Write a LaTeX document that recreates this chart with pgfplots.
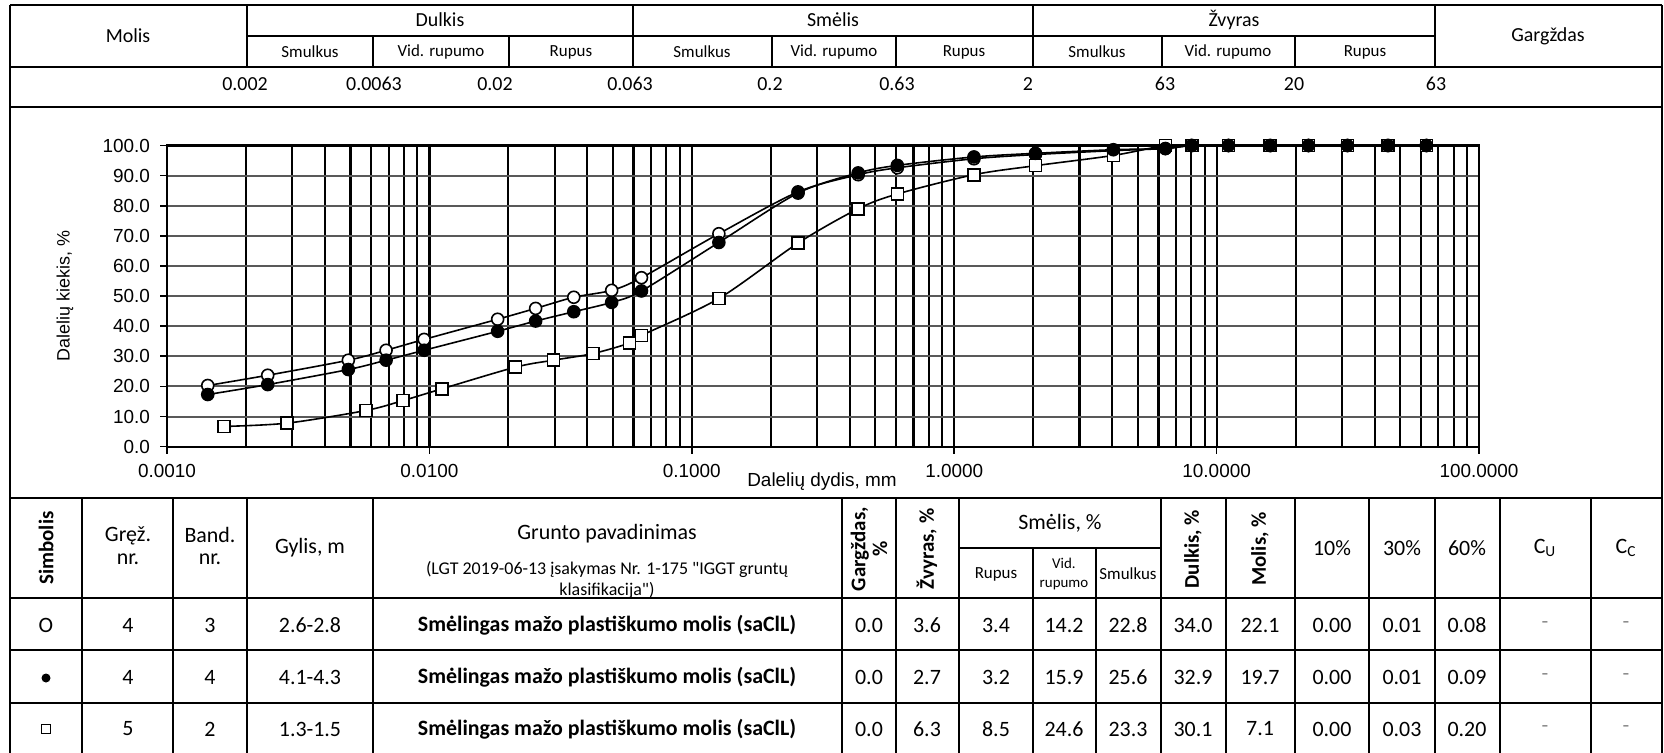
\documentclass[border=0pt]{standalone}
\usepackage{fontspec}
\setmainfont{Liberation Sans}
\newfontfamily\calibri{Carlito}
\usepackage{pgfplots}
\pgfplotsset{compat=1.18}
\begin{document}
\begin{tikzpicture}
\tikzset{
 th/.style={font=\calibri\fontsize{10}{12}\selectfont, inner sep=0pt, align=center},
 ts/.style={font=\calibri\fontsize{8.5}{10}\selectfont, inner sep=0pt, align=center},
 tb/.style={font=\calibri\fontsize{11}{11.5}\selectfont, inner sep=0pt, align=center},
 tbb/.style={font=\calibri\bfseries\fontsize{11}{11.5}\selectfont, inner sep=0pt, align=center},
 tr/.style={font=\calibri\bfseries\fontsize{10.5}{11}\selectfont, inner sep=0pt, align=center, rotate=90},
 tl/.style={font=\calibri\fontsize{9}{11}\selectfont, inner sep=0pt, align=center},
 tv/.style={font=\calibri\fontsize{7.5}{9.5}\selectfont, inner sep=0pt, align=center},
}
\begin{scope}[x=0.5bp,y=-0.5bp]
\useasboundingbox (0,0) rectangle (1664,753);
\begin{scope}[line width=1.2bp]
% outer frame
\draw (10,5) -- (1662,5);
\draw (10,5) -- (10,770);
\draw (1662,5) -- (1662,770);
% top table
\draw (247,36) -- (1435,36);
\draw (10,67) -- (1662,67);
\draw (10,107) -- (1662,107);
\foreach \x in {247,633,1033,1435} \draw (\x,5) -- (\x,67);
\foreach \x in {373,509,772,896,1162,1295} \draw (\x,36) -- (\x,67);
% bottom table
\draw (10,498) -- (1662,498);
\draw (959,548) -- (1161,548);
\draw (10,598) -- (1662,598);
\draw (10,650) -- (1662,650);
\draw (10,703) -- (1662,703);
\foreach \x in {82,173,247,373,842,896,959,1161,1226,1295,1369,1435,1500,1591} \draw (\x,498) -- (\x,770);
\foreach \x in {1033,1096} \draw (\x,548) -- (\x,770);
\end{scope}
% top table text
\node[th] at (128,36) {Molis};
\node[th] at (440,20) {Dulkis};
\node[th] at (833,20) {Smėlis};
\node[th] at (1234,20) {Žvyras};
\node[th] at (1548,36) {Gargždas};
\node[ts] at (310,52) {Smulkus};
\node[ts] at (441,52) {Vid. rupumo};
\node[ts] at (571,52) {Rupus};
\node[ts] at (702,52) {Smulkus};
\node[ts] at (834,52) {Vid. rupumo};
\node[ts] at (964,52) {Rupus};
\node[ts] at (1097,52) {Smulkus};
\node[ts] at (1228,52) {Vid. rupumo};
\node[ts] at (1365,52) {Rupus};
\node[th] at (245,84) {0.002};
\node[th] at (374,84) {0.0063};
\node[th] at (495,84) {0.02};
\node[th] at (630,84) {0.063};
\node[th] at (770,84) {0.2};
\node[th] at (897,84) {0.63};
\node[th] at (1028,84) {2};
\node[th] at (1165,84) {63};
\node[th] at (1294,84) {20};
\node[th] at (1436,84) {63};
% axis titles
\node[font=\fontsize{9}{10}\selectfont, rotate=90, inner sep=0pt] at (65,296) {Dalelių kiekis, \%};
\node[font=\fontsize{9.5}{11}\selectfont, inner sep=0pt] at (822,482) {Dalelių dydis, mm};
% bottom table header
\node[tr] at (46,548) {Simbolis};
\node[tb] at (128,546) {Gręž.\\nr.};
\node[tb] at (210,546) {Band.\\nr.};
\node[tb] at (310,548) {Gylis, m};
\node[tb] at (607,534) {Grunto pavadinimas};
\node[tl] at (607,569) {(LGT 2019-06-13 įsakymas Nr. 1-175 "IGGT gruntų};
\node[tl] at (607,590) {klasifikacija")};
\node[tr] at (869,549) {Gargždas,\\\%};
\node[tr] at (927,549) {Žvyras, \%};
\node[tb] at (1060,523) {Smėlis, \%};
\node[ts] at (996,574) {Rupus};
\node[tv] at (1064,574) {Vid.\\rupumo};
\node[ts] at (1128,574) {Smulkus};
\node[tr] at (1193,549) {Dulkis, \%};
\node[tr] at (1260,549) {Molis, \%};
\node[tb] at (1332,548) {10\%};
\node[tb] at (1402,548) {30\%};
\node[tb] at (1467,548) {60\%};
\node[tb] at (1545,548) {C\textsubscript{U}};
\node[tb] at (1626,548) {C\textsubscript{C}};
% rows
\node[tb] at (46,625) {O};
\node[circle, fill=black, inner sep=0pt, minimum size=4.5bp] at (46,678) {};
\node[draw=black, line width=0.5bp, inner sep=0pt, minimum size=4.5bp] at (46,729) {};
\foreach \y/\g/\b/\d/\ga/\z/\r/\v/\s/\du/\mo/\a/\bb/\c in {
 625/4/3/2.6-2.8/0.0/3.6/3.4/14.2/22.8/34.0/22.1/0.00/0.01/0.08,
 677/4/4/4.1-4.3/0.0/2.7/3.2/15.9/25.6/32.9/19.7/0.00/0.01/0.09,
 729/5/2/1.3-1.5/0.0/6.3/8.5/24.6/23.3/30.1/7.1/0.00/0.03/0.20}{
 \node[tb] at (128,\y) {\g};
 \node[tb] at (210,\y) {\b};
 \node[tb] at (310,\y) {\d};
 \node[tbb] at (607,\y) {Smėlingas mažo plastiškumo molis (saClL)};
 \node[tb] at (869,\y) {\ga};
 \node[tb] at (927,\y) {\z};
 \node[tb] at (996,\y) {\r};
 \node[tb] at (1064,\y) {\v};
 \node[tb] at (1128,\y) {\s};
 \node[tb] at (1193,\y) {\du};
 \node[tb] at (1260,\y) {\mo};
 \node[tb] at (1332,\y) {\a};
 \node[tb] at (1402,\y) {\bb};
 \node[tb] at (1467,\y) {\c};
 \node[tb, text=black!45] at (1545,\y) {-};
 \node[tb, text=black!45] at (1626,\y) {-};
}
\end{scope}
\begin{axis}[
  at={(83.5bp,-223.3bp)}, anchor=south west,
  scale only axis, width=656bp, height=150.55bp,
  xmode=log, log basis x=10,
  xmin=0.001, xmax=100, ymin=0, ymax=100,
  xtick={0.001,0.01,0.1,1,10,100},
  xticklabels={0.0010,0.0100,0.1000,1.0000,10.0000,100.0000},
  minor xtick={0.002,0.003,0.004,0.005,0.006,0.007,0.008,0.009,
    0.02,0.03,0.04,0.05,0.06,0.07,0.08,0.09,
    0.2,0.3,0.4,0.5,0.6,0.7,0.8,0.9,
    2,3,4,5,6,7,8,9,20,30,40,50,60,70,80,90},
  ytick={0,10,...,100},
  yticklabels={0.0,10.0,20.0,30.0,40.0,50.0,60.0,70.0,80.0,90.0,100.0},
  xmajorgrids, xminorgrids, ymajorgrids,
  major x grid style={black, line width=1.1bp},
  minor x grid style={black, line width=1.1bp},
  major y grid style={black!65, line width=1bp},
  axis line style={black, line width=1.1bp},
  tick style={black, line width=0.8bp},
  tick align=outside, xtick pos=left, ytick pos=left,
  major tick length=3.5bp, minor tick length=0pt,
  ticklabel style={font=\fontsize{9.5}{11}\selectfont},
  xticklabel style={yshift=-2bp},
  yticklabel style={xshift=-1.5bp},
  clip=false,
]
\addplot[black, line width=0.8bp, smooth, mark=*, mark size=3bp, mark options={fill=white, line width=0.8bp}] coordinates {
(0.00143,20.3) (0.00242,23.7) (0.00491,28.7) (0.00684,32.0) (0.00955,35.6) (0.0182,42.3) (0.0254,45.9) (0.0355,49.6) (0.0495,51.9) (0.0643,56.1) (0.1268,70.7) (0.254,84.6) (0.4306,90.3) (0.607,92.6) (1.189,95.6) (2.04,97.0) (4.04,98.3) (6.38,99.0) (8.04,100) (11.1,100) (16.0,100) (22.4,100) (31.5,100) (45,100) (63,100)
};
\addplot[black, line width=0.8bp, smooth, mark=square*, mark size=3bp, mark options={fill=white, line width=0.8bp}] coordinates {
(0.00165,6.7) (0.00287,7.8) (0.00573,12.0) (0.00794,15.3) (0.01117,19.2) (0.0213,26.4) (0.0297,28.7) (0.042,30.9) (0.0579,34.4) (0.0643,36.9) (0.1268,49.2) (0.254,67.6) (0.4306,79.0) (0.607,83.9) (1.189,90.3) (2.04,93.3) (4.04,96.7) (6.38,100) (8.04,100) (11.1,100) (16.0,100) (22.4,100) (31.5,100) (45,100) (63,100)
};
\addplot[black, line width=0.8bp, smooth, mark=*, mark size=3bp, mark options={fill=black, line width=0.8bp}] coordinates {
(0.00143,17.3) (0.00242,20.6) (0.00491,25.6) (0.00684,28.7) (0.00955,32.0) (0.0182,38.3) (0.0254,41.7) (0.0355,44.8) (0.0495,47.9) (0.0643,51.7) (0.1268,67.8) (0.254,84.2) (0.4306,90.9) (0.607,93.4) (1.189,96.2) (2.04,97.4) (4.04,98.6) (6.38,99.0) (8.04,100) (11.1,100) (16.0,100) (22.4,100) (31.5,100) (45,100) (63,100)
};
\end{axis}
\end{tikzpicture}
\end{document}
